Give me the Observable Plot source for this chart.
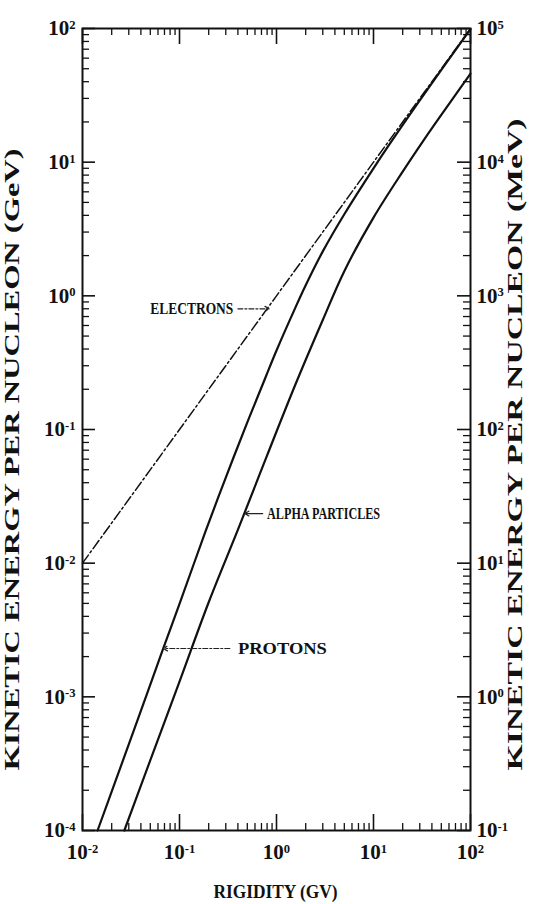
<!DOCTYPE html>
<html>
<head>
<meta charset="utf-8">
<script src="https://cdn.jsdelivr.net/npm/d3@7"></script>
<script src="https://cdn.jsdelivr.net/npm/@observablehq/plot@0.6"></script>
<style>
  html, body { margin: 0; padding: 0; background: #fff; }
  #chart svg { display: block; }
</style>
</head>
<body>
<div id="chart"></div>
<script>
// ---------- data ----------
// Rigidity in GV, kinetic energy per nucleon in GeV
const protonRigidity = [0.0143, 0.022, 0.035, 0.068, 0.1, 0.185, 0.3, 0.5, 0.77, 1.0, 1.57, 2, 3, 5, 10, 15, 30, 100];
const protonEnergy   = [1e-4, 2.37e-4, 6.0e-4, 2.3e-3, 4.95e-3, 0.0172, 0.0437, 0.113, 0.245, 0.39, 0.82, 1.2, 2.15, 4.08, 9.0, 14, 29, 99];

const alphaRigidity  = [0.027, 0.043, 0.1, 0.2, 0.41, 0.8, 1.57, 3.0, 5.0, 10, 20, 32.7, 50, 100];
const alphaEnergy    = [1e-4, 2.5e-4, 1.3e-3, 5.1e-3, 0.0186, 0.064, 0.218, 0.66, 1.53, 3.85, 8.5, 14.5, 22.6, 46];

const electronRigidity = [0.01, 0.1, 1, 10, 100];
const electronEnergy   = [0.01, 0.1, 1, 10, 100];

// axis decades
const xDecades = [0.01, 0.1, 1, 10, 100];
const yDecades = [1e-4, 1e-3, 1e-2, 1e-1, 1, 10, 100];
const xExponents = [-2, -1, 0, 1, 2];
const yExponentsGeV = [-4, -3, -2, -1, 0, 1, 2];
const yExponentsMeV = [-1, 0, 1, 2, 3, 4, 5];
const minorMultipliers = [2, 3, 4, 5, 6, 7, 8, 9];

// annotation labels (data coordinates)
const annotationLabels = ["ELECTRONS", "ALPHA PARTICLES", "PROTONS"];
const annotationTipR   = [0.84, 0.47, 0.068];
const annotationTipE   = [0.80, 0.0235, 2.3e-3];
const annotationTailR  = [0.40, 0.72, 0.33];
const annotationTextR  = [0.050, 0.80, 0.40];
const annotationDashed = [true, false, true];

const xTitle = "RIGIDITY (GV)";
const yTitleLeft = "KINETIC ENERGY PER NUCLEON (GeV)";
const yTitleRight = "KINETIC ENERGY PER NUCLEON (MeV)";

// ---------- build tables ----------
const protons = protonRigidity.map((r, i) => ({R: r, E: protonEnergy[i]}));
const alphas = alphaRigidity.map((r, i) => ({R: r, E: alphaEnergy[i]}));
const electrons = electronRigidity.map((r, i) => ({R: r, E: electronEnergy[i]}));
const annotations = annotationLabels.map((label, i) => ({
  label, tipR: annotationTipR[i], tipE: annotationTipE[i],
  tailR: annotationTailR[i], textR: annotationTextR[i], dashed: annotationDashed[i]
}));
const xMinor = xDecades.slice(0, -1).flatMap(d => minorMultipliers.map(m => d * m));
const yMinor = yDecades.slice(0, -1).flatMap(d => minorMultipliers.map(m => d * m));
const xLabelMap = new Map(xDecades.map((d, i) => [d, "10^" + xExponents[i]]));
const yLabelMapL = new Map(yDecades.map((d, i) => [d, "10^" + yExponentsGeV[i]]));
const yLabelMapR = new Map(yDecades.map((d, i) => [d, "10^" + yExponentsMeV[i]]));

// ---------- layout ----------
const W = 537, H = 904;
const mLeft = 82, mRight = 67, mTop = 28, mBottom = 74;
const plotW = W - mLeft - mRight;
const plotH = H - mTop - mBottom;
const majorLen = 13, minorLen = 7;
const FONT = "'Liberation Serif', 'DejaVu Serif', serif";

const chart = Plot.plot({
  width: W,
  height: H,
  marginLeft: mLeft,
  marginRight: mRight,
  marginTop: mTop,
  marginBottom: mBottom,
  style: {fontFamily: FONT, fontWeight: "bold", background: "#fff", color: "#111"},
  x: {type: "log", domain: [0.01, 100]},
  y: {type: "log", domain: [1e-4, 100]},
  marks: [
    // inward ticks: left
    Plot.tickY(yDecades, {y: d => d, insetRight: plotW - majorLen, strokeWidth: 1.6}),
    Plot.tickY(yMinor, {y: d => d, insetRight: plotW - minorLen, strokeWidth: 1.3}),
    // right
    Plot.tickY(yDecades, {y: d => d, insetLeft: plotW - majorLen, strokeWidth: 1.6}),
    Plot.tickY(yMinor, {y: d => d, insetLeft: plotW - minorLen, strokeWidth: 1.3}),
    // bottom
    Plot.tickX(xDecades, {x: d => d, insetTop: plotH - majorLen - 3, strokeWidth: 1.6}),
    Plot.tickX(xMinor, {x: d => d, insetTop: plotH - minorLen, strokeWidth: 1.3}),
    // top
    Plot.tickX(xDecades, {x: d => d, insetBottom: plotH - majorLen - 3, strokeWidth: 1.6}),
    Plot.tickX(xMinor, {x: d => d, insetBottom: plotH - minorLen, strokeWidth: 1.3}),
    Plot.frame({stroke: "#111", strokeWidth: 2}),

    // axes labels
    Plot.axisX({anchor: "bottom", ticks: xDecades, tickSize: 0, tickPadding: 14,
      tickFormat: d => xLabelMap.get(d), fontSize: 21, label: null}),
    Plot.axisY({anchor: "left", ticks: yDecades, tickSize: 0, tickPadding: 7,
      tickFormat: d => yLabelMapL.get(d), fontSize: 21, label: null}),
    Plot.axisY({anchor: "right", ticks: yDecades, tickSize: 0, tickPadding: 6,
      tickFormat: d => yLabelMapR.get(d), fontSize: 21, label: null}),

    // axis titles (start-anchored so that the stretched length grows from a fixed point)
    Plot.text([xTitle], {frameAnchor: "bottom", dx: -63, dy: 67, textAnchor: "start", fontSize: 19, text: d => d, fill: "#111"}),
    Plot.text([yTitleLeft], {frameAnchor: "bottom-left", dx: -64, dy: -60, rotate: -90, textAnchor: "start", fontSize: 20, text: d => d, fill: "#111"}),
    Plot.text([yTitleRight], {frameAnchor: "bottom-right", dx: 51, dy: -60, rotate: -90, textAnchor: "start", fontSize: 20, text: d => d, fill: "#111"}),

    // curves
    Plot.line(electrons, {x: "R", y: "E", stroke: "#111", strokeWidth: 1.5, strokeDasharray: "10,3,2,3"}),
    Plot.line(protons, {x: "R", y: "E", stroke: "#111", strokeWidth: 2.2, curve: "catmull-rom"}),
    Plot.line(alphas, {x: "R", y: "E", stroke: "#111", strokeWidth: 2.2, curve: "catmull-rom"}),

    // annotation arrows
    Plot.arrow(annotations.filter(d => d.dashed), {x1: "tailR", y1: "tipE", x2: "tipR", y2: "tipE",
      stroke: "#222", strokeWidth: 1.2, headLength: 6, bend: 0, strokeDasharray: "5,2,2,2"}),
    Plot.arrow(annotations.filter(d => !d.dashed), {x1: "tailR", y1: "tipE", x2: "tipR", y2: "tipE",
      stroke: "#222", strokeWidth: 1.2, headLength: 6, bend: 0}),
    Plot.text(annotations, {x: "textR", y: "tipE", text: "label",
      textAnchor: "start", fontSize: 17, fill: "#111"})
  ]
});

// stretch titles/labels to the reference's lengths
const lengths = new Map([
  [yTitleLeft, 622], [yTitleRight, 652], [xTitle, 124],
  ["ELECTRONS", 83], ["ALPHA PARTICLES", 113], ["PROTONS", 89]
]);
d3.select(chart).selectAll("text").each(function () {
  const t = this.textContent;
  if (lengths.has(t)) {
    this.setAttribute("textLength", lengths.get(t));
    this.setAttribute("lengthAdjust", "spacingAndGlyphs");
  }
  const m = /^10\^(.+)$/.exec(t);
  if (m) {
    const el = d3.select(this);
    el.text("10");
    el.append("tspan").attr("dy", "-0.5em").attr("font-size", "0.6em").text(m[1]);
  }
});

document.getElementById("chart").append(chart);
</script>
</body>
</html>
